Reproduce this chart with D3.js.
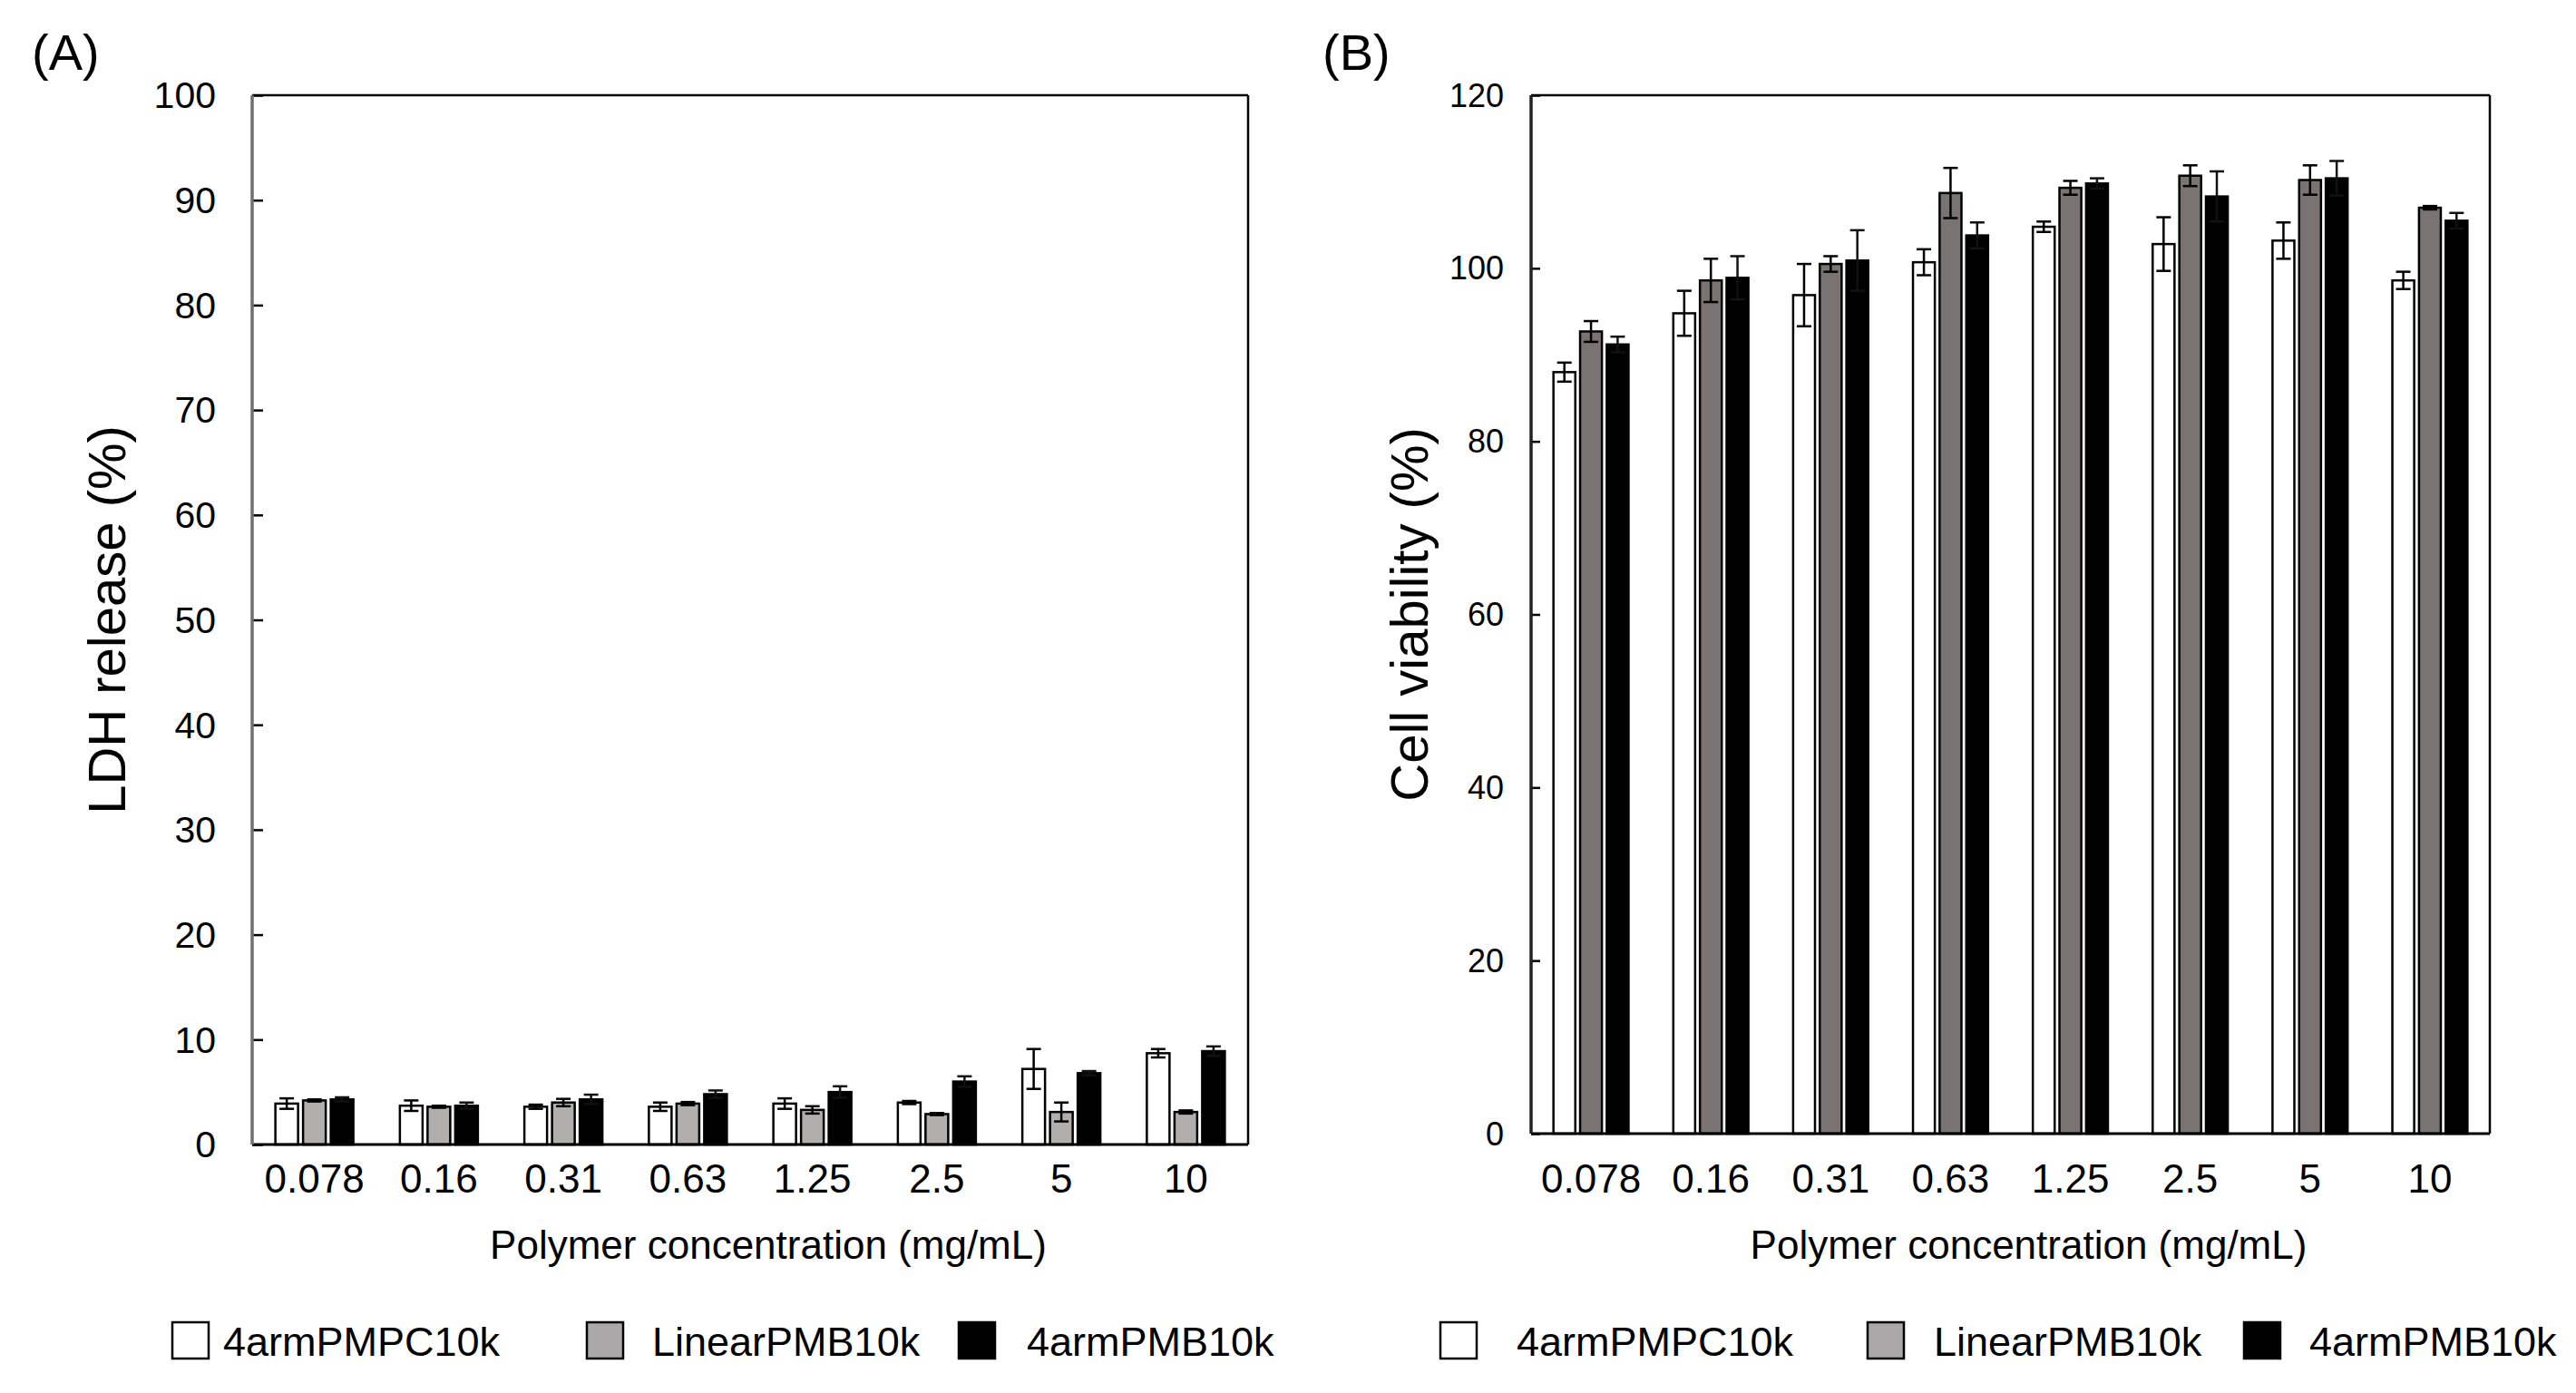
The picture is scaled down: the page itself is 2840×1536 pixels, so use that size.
<!DOCTYPE html>
<html>
<head>
<meta charset="utf-8">
<script src="https://cdn.jsdelivr.net/npm/d3@7"></script>
<style>
  body { margin: 0; background: #fff; }
  text { font-family: "Liberation Sans", Arial, sans-serif; fill: #000; }
</style>
</head>
<body>
<svg id="chart" width="2840" height="1536"></svg>
<script>
// data
const concentrations = ['0.078', '0.16', '0.31', '0.63', '1.25', '2.5', '5', '10'];
const seriesNames = ['4armPMPC10k', 'LinearPMB10k', '4armPMB10k'];

// (A) LDH release (%)
const ldhPMPC = [3.9, 3.7, 3.6, 3.6, 3.9, 4.0, 7.2, 8.7];
const ldhPMPCErr = [0.5, 0.5, 0.2, 0.4, 0.5, 0.15, 1.9, 0.4];
const ldhLinear = [4.2, 3.6, 4.0, 3.9, 3.3, 2.9, 3.1, 3.1];
const ldhLinearErr = [0.1, 0.1, 0.35, 0.15, 0.35, 0.1, 0.9, 0.15];
const ldh4arm = [4.3, 3.7, 4.3, 4.8, 5.0, 6.0, 6.8, 8.9];
const ldh4armErr = [0.2, 0.3, 0.45, 0.35, 0.55, 0.5, 0.2, 0.45];
const ldhTicks = [0, 10, 20, 30, 40, 50, 60, 70, 80, 90, 100];

// (B) Cell viability (%)
const viaPMPC = [88.0, 94.8, 96.9, 100.7, 104.8, 102.8, 103.2, 98.6];
const viaPMPCErr = [1.1, 2.6, 3.6, 1.5, 0.6, 3.1, 2.1, 1.0];
const viaLinear = [92.7, 98.6, 100.5, 108.7, 109.3, 110.7, 110.2, 107.0];
const viaLinearErr = [1.2, 2.5, 0.9, 2.9, 0.8, 1.2, 1.7, 0.2];
const via4arm = [91.2, 98.9, 100.9, 103.8, 109.8, 108.3, 110.4, 105.5];
const via4armErr = [0.9, 2.5, 3.5, 1.5, 0.6, 2.9, 2.0, 0.9];
const viaTicks = [0, 20, 40, 60, 80, 100, 120];

const svg = d3.select('#chart');

function drawPanel(p) {
  let w = p.right - p.left, h = p.bottom - p.top;
  let g = svg.append('g').attr('transform', `translate(${p.left},${p.top})`);

  let x0 = d3.scaleBand().domain(concentrations).range([0, w]);
  let x1 = d3.scaleBand().domain(seriesNames).range([0, x0.bandwidth()])
      .paddingInner(0.18).paddingOuter(0.84);
  let y = d3.scaleLinear().domain([0, p.yMax]).range([h, 0]);

  let rows = [];
  concentrations.forEach((c, i) => {
    p.values.forEach((vals, s) => {
      rows.push({c: c, s: seriesNames[s], si: s, v: vals[i], e: p.errors[s][i]});
    });
  });

  // bars
  g.selectAll('.bar').data(rows).enter().append('rect')
      .attr('class', 'bar')
      .attr('x', d => x0(d.c) + x1(d.s))
      .attr('y', d => y(d.v))
      .attr('width', x1.bandwidth())
      .attr('height', d => h - y(d.v))
      .attr('fill', d => p.colors[d.si])
      .attr('stroke', '#000')
      .attr('stroke-width', 2.5);

  // error bars
  let capW = 8;
  let eb = g.selectAll('.err').data(rows).enter().append('g').attr('class', 'err')
      .attr('stroke', d => d.si === 2 ? '#111' : '#000')
      .attr('stroke-width', 2.5);
  eb.append('line')
      .attr('x1', d => x0(d.c) + x1(d.s) + x1.bandwidth() / 2)
      .attr('x2', d => x0(d.c) + x1(d.s) + x1.bandwidth() / 2)
      .attr('y1', d => y(d.v + d.e)).attr('y2', d => y(d.v - d.e));
  [1, -1].forEach(k => {
    eb.append('line')
        .attr('x1', d => x0(d.c) + x1(d.s) + x1.bandwidth() / 2 - capW)
        .attr('x2', d => x0(d.c) + x1(d.s) + x1.bandwidth() / 2 + capW)
        .attr('y1', d => y(d.v + k * d.e)).attr('y2', d => y(d.v + k * d.e));
  });

  // frame
  g.append('line').attr('x1', 0).attr('x2', w).attr('y1', 0).attr('y2', 0)
      .attr('stroke', '#000').attr('stroke-width', 2.5);
  g.append('line').attr('x1', w).attr('x2', w).attr('y1', 0).attr('y2', h)
      .attr('stroke', '#000').attr('stroke-width', 2.5);
  g.append('line').attr('x1', 0).attr('x2', w).attr('y1', h).attr('y2', h)
      .attr('stroke', '#000').attr('stroke-width', 3);

  // y axis, ticks inward
  let yAxis = g.append('g')
      .call(d3.axisRight(y).tickValues(p.ticks).tickSize(p.tickLen).tickFormat(''));
  yAxis.select('.domain').remove();
  yAxis.selectAll('.tick line').attr('stroke', '#000').attr('stroke-width', 2.5);
  g.append('line').attr('x1', 0).attr('x2', 0).attr('y1', 0).attr('y2', h)
      .attr('stroke', p.axisColor).attr('stroke-width', 3.5);
  g.selectAll('.ylab').data(p.ticks).enter().append('text')
      .attr('x', -p.labelGap).attr('y', d => y(d))
      .attr('dy', '0.35em')
      .attr('text-anchor', 'end')
      .style('font-size', p.yTickSize + 'px')
      .text(d => d);

  // x labels (same baseline for both panels)
  g.selectAll('.xlab').data(concentrations).enter().append('text')
      .attr('x', d => x0(d) + x0.bandwidth() / 2)
      .attr('y', 1315 - p.top)
      .attr('text-anchor', 'middle')
      .style('font-size', '44px')
      .text(d => d);

  g.append('text')
      .attr('x', w / 2 + 20).attr('y', 1388 - p.top)
      .attr('text-anchor', 'middle')
      .style('font-size', '44px')
      .text('Polymer concentration (mg/mL)');

  g.append('text')
      .attr('transform', `translate(${p.titleX},${h / 2}) rotate(-90)`)
      .attr('text-anchor', 'middle')
      .style('font-size', '58px')
      .text(p.yTitle);

  svg.append('text')
      .attr('x', p.tagX).attr('y', 77)
      .style('font-size', '56px')
      .text(p.tag);

  // legend
  let lg = svg.append('g');
  p.legendX.forEach((lx, i) => {
    lg.append('rect')
        .attr('x', lx).attr('y', 1458)
        .attr('width', 40).attr('height', 40)
        .attr('fill', p.legendColors[i])
        .attr('stroke', '#000').attr('stroke-width', 2.5);
    lg.append('text')
        .attr('x', p.legendTextX[i]).attr('y', 1495)
        .style('font-size', '45px')
        .text(seriesNames[i]);
  });
}

drawPanel({
  left: 278, right: 1376, top: 105, bottom: 1262,
  yMax: 100, ticks: ldhTicks, tickLen: 12, labelGap: 40, yTickSize: 41,
  values: [ldhPMPC, ldhLinear, ldh4arm],
  errors: [ldhPMPCErr, ldhLinearErr, ldh4armErr],
  colors: ['#ffffff', '#b2aeae', '#000000'],
  legendColors: ['#ffffff', '#aaa8a8', '#000000'],
  axisColor: '#707070',
  yTitle: 'LDH release (%)', titleX: -140,
  tag: '(A)', tagX: 35,
  legendX: [190, 647, 1057], legendTextX: [246, 719, 1132]
});

drawPanel({
  left: 1688, right: 2745, top: 105, bottom: 1250,
  yMax: 120, ticks: viaTicks, tickLen: 10, labelGap: 30, yTickSize: 36,
  values: [viaPMPC, viaLinear, via4arm],
  errors: [viaPMPCErr, viaLinearErr, via4armErr],
  colors: ['#ffffff', '#7a7373', '#000000'],
  legendColors: ['#ffffff', '#aaa8a8', '#000000'],
  axisColor: '#222222',
  yTitle: 'Cell viability (%)', titleX: -114,
  tag: '(B)', tagX: 1458,
  legendX: [1588, 2059, 2474], legendTextX: [1672, 2132, 2546]
});
</script>
</body>
</html>
